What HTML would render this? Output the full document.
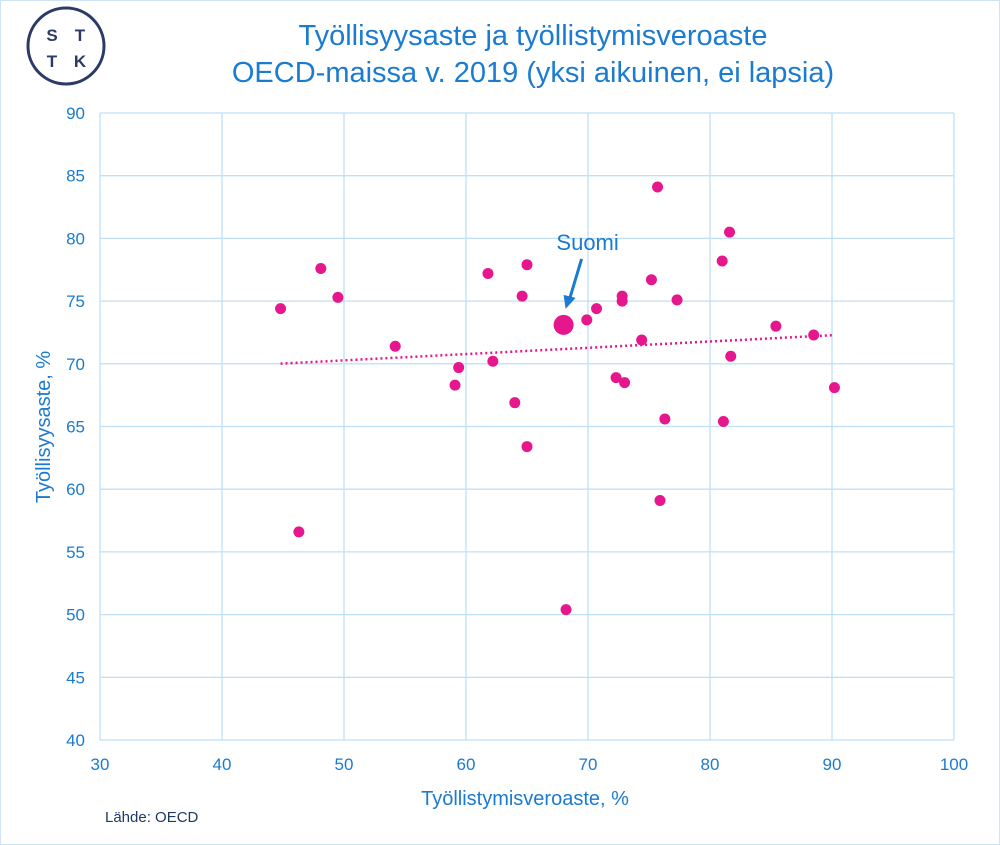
<!DOCTYPE html>
<html><head><meta charset="utf-8"><style>
body{margin:0;background:#fff;}
svg{display:block;font-family:"Liberation Sans",Arial,sans-serif;}
</style></head><body>
<svg id="c" width="1000" height="845" viewBox="0 0 1000 845">
<rect x="0.5" y="0.5" width="999" height="844" fill="#fff" stroke="#cfe3f5"/>
<g>
<circle cx="66" cy="46" r="38" fill="#fff" stroke="#2b3a67" stroke-width="3"/>
<text x="52" y="41" font-size="17" font-weight="bold" fill="#2b3a67" text-anchor="middle">S</text>
<text x="80" y="41" font-size="17" font-weight="bold" fill="#2b3a67" text-anchor="middle">T</text>
<text x="52" y="67" font-size="17" font-weight="bold" fill="#2b3a67" text-anchor="middle">T</text>
<text x="80" y="67" font-size="17" font-weight="bold" fill="#2b3a67" text-anchor="middle">K</text>
</g>
<text x="533" y="45" font-size="29" fill="#1a7bd0" text-anchor="middle">Työllisyysaste ja työllistymisveroaste</text>
<text x="533" y="82" font-size="29" fill="#1a7bd0" text-anchor="middle">OECD-maissa v. 2019 (yksi aikuinen, ei lapsia)</text>
<g id="grid"></g><g id="axes"></g><g id="marks"></g>
<text x="525" y="805" font-size="20" fill="#1a7bd0" text-anchor="middle">Työllistymisveroaste, %</text>
<text transform="translate(50,427) rotate(-90)" font-size="20" fill="#1a7bd0" text-anchor="middle">Työllisyysaste, %</text>
<text x="105" y="822" font-size="15" fill="#1f3864">Lähde: OECD</text>
</svg>
<script>
const xTicks=[30,40,50,60,70,80,90,100];
const yTicks=[40,45,50,55,60,65,70,75,80,85,90];
const xVals=[44.8,48.1,49.5,46.3,54.2,59.1,59.4,61.8,62.2,64.0,64.6,65.0,65.0,68.2,69.9,70.7,72.3,73.0,72.8,72.8,74.4,75.7,75.2,77.3,75.9,76.3,81.0,81.6,81.7,81.1,85.4,88.5,90.2];
const yVals=[74.4,77.6,75.3,56.6,71.4,68.3,69.7,77.2,70.2,66.9,75.4,77.9,63.4,50.4,73.5,74.4,68.9,68.5,75.4,75.0,71.9,84.1,76.7,75.1,59.1,65.6,78.2,80.5,70.6,65.4,73.0,72.3,68.1];
const finland=[68.0,73.1];
const NS='http://www.w3.org/2000/svg';
const X=v=>100+(v-30)*12.2, Y=v=>740-(v-40)*12.54;
function mk(t,a,p){const e=document.createElementNS(NS,t);for(const k in a)e.setAttribute(k,a[k]);p.appendChild(e);return e;}
const grid=document.getElementById('grid'),axes=document.getElementById('axes'),marks=document.getElementById('marks');
xTicks.forEach(t=>{const l=mk('line',{x1:X(t),x2:X(t),y1:Y(90),y2:Y(40),stroke:'#bfe0f7','stroke-width':1.3},grid);


const s=mk('text',{x:X(t),y:Y(40)+30,'font-size':17,fill:'#1a7bd0','text-anchor':'middle'},axes);s.textContent=t;

});
yTicks.forEach(t=>{const l=mk('line',{x1:X(30),x2:X(100),y1:Y(t),y2:Y(t),stroke:'#bfe0f7','stroke-width':1.3},grid);


const s=mk('text',{x:X(30)-15,y:Y(t)+6,'font-size':17,fill:'#1a7bd0','text-anchor':'end'},axes);s.textContent=t;

});
// trendline (regression)
const n=xVals.length;let mx=0,my=0;xVals.forEach((v,i)=>{mx+=v;my+=yVals[i];});mx/=n;my/=n;
let sxy=0,sxx=0;xVals.forEach((v,i)=>{sxy+=(v-mx)*(yVals[i]-my);sxx+=(v-mx)*(v-mx);});
const b=sxy/sxx,a=my-b*mx,x0=Math.min(...xVals),x1=Math.max(...xVals);
const tl=mk('line',{x1:X(x0),y1:Y(a+b*x0),x2:X(x1),y2:Y(a+b*x1),stroke:'#e6168c','stroke-width':2.5,'stroke-dasharray':'2 3'},marks);


xVals.forEach((v,i)=>{const c=mk('circle',{cx:X(v),cy:Y(yVals[i]),r:5.5,fill:'#e6168c'},marks);

});
const f=mk('circle',{cx:X(finland[0]),cy:Y(finland[1]),r:10,fill:'#e6168c'},marks);


const fx=X(finland[0]),fy=Y(finland[1]);
const ar=mk('line',{x1:fx+18,y1:fy-66,x2:fx+6,y2:fy-26,stroke:'#1a7bd0','stroke-width':3},marks);


const ah=mk('polygon',{points:`${fx+2},${fy-16} ${fx},${fy-30} ${fx+12},${fy-27}`,fill:'#1a7bd0'},marks);


const lb=mk('text',{x:fx+24,y:fy-75,'font-size':22,fill:'#1a7bd0','text-anchor':'middle'},marks);lb.textContent='Suomi';


</script>
</body></html>
